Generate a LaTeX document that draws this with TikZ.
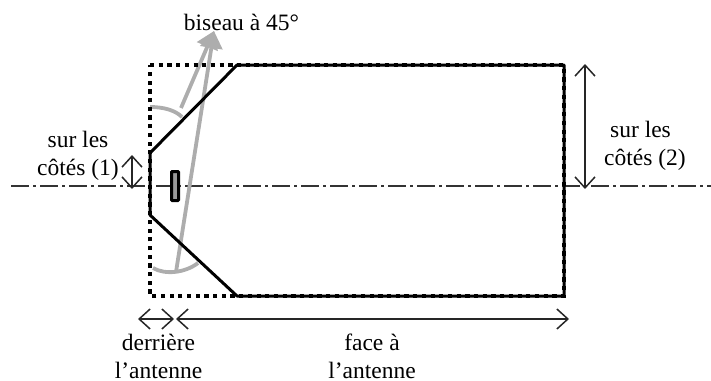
\documentclass[tikz,border=0pt]{standalone}
\usepackage{fontspec}
\setmainfont{Liberation Serif}
\usetikzlibrary{arrows.meta}
\tikzset{
  lbl/.style={align=center,font=\fontsize{23.5}{28}\selectfont,inner sep=0pt},
  dim/.style={line width=1.5pt,black!85,{Straight Barb[length=11pt,width=20pt,line width=1.5pt]}-{Straight Barb[length=11pt,width=20pt,line width=1.5pt]}},
  graybar/.style={line width=3.8pt,black!32},
  grayarrow/.style={graybar,-{Triangle[length=17pt,width=22pt]}},
  outline/.style={line width=3pt,black},
  dots/.style={line width=4.6pt,black,dash pattern=on 4.2pt off 4.5pt},
  axis/.style={line width=1.3pt,black!80,dash pattern=on 18pt off 4pt on 3pt off 4pt}
}
\begin{document}
\begin{tikzpicture}[x=1pt,y=-1pt]
\useasboundingbox (0,0) rectangle (711,380);
\coordinate (axL) at (11,186); \coordinate (axR) at (711,186);
\coordinate (tl) at (150,65); \coordinate (tc) at (237,65); \coordinate (tr) at (564,65);
\coordinate (br) at (564,296); \coordinate (bc) at (237,296); \coordinate (bl) at (150,296);
\coordinate (ml) at (150,153); \coordinate (mb) at (150,215);
\coordinate (tip) at (214,31);
\coordinate (g1) at (176,272); \coordinate (g2) at (181,108);
\coordinate (d1) at (132,155); \coordinate (d2) at (132,189);
\coordinate (d3) at (585,64); \coordinate (d4) at (585,189);
\coordinate (d5) at (138,319); \coordinate (d6) at (174,319);
\coordinate (d7) at (176,319); \coordinate (d8) at (569,319);
\draw[axis] (axL) -- (axR);
\draw[graybar] (150,107) .. controls (163,107) and (175,110) .. (182,117);
\draw[graybar] (153,268) .. controls (165,275) and (185,273) .. (198,263);
\draw[grayarrow] (g1) -- (tip);
\draw[grayarrow] (g2) -- (tip);
\draw[dots] (tl) -- (tr) -- (br) -- (bl) -- cycle;
\draw[outline,line join=round] (ml) -- (tc) -- (tr) -- (br) -- (bc) -- (mb) -- cycle;
\draw[line width=3pt,black,fill=black!40,rounded corners=0.8pt] (171.5,171.5) rectangle (178.5,200.5);
\draw[dim] (d1) -- (d2);
\draw[dim] (d3) -- (d4);
\draw[dim] (d5) -- (d6);
\draw[dim] (d7) -- (d8);
\node[lbl] (biseau) at (241.5,22) {biseau à 45°};
\node[lbl] (cotes1) at (78,155.5) {sur les\\côtés (1)};
\node[lbl] (cotes2) at (645,146) {sur les\hspace*{9pt}\\côtés (2)};
\node[lbl] (derriere) at (158.5,356) {derrière\\l’antenne};
\node[lbl] (face) at (372,356.5) {face à\\l’antenne};
\end{tikzpicture}
\end{document}
